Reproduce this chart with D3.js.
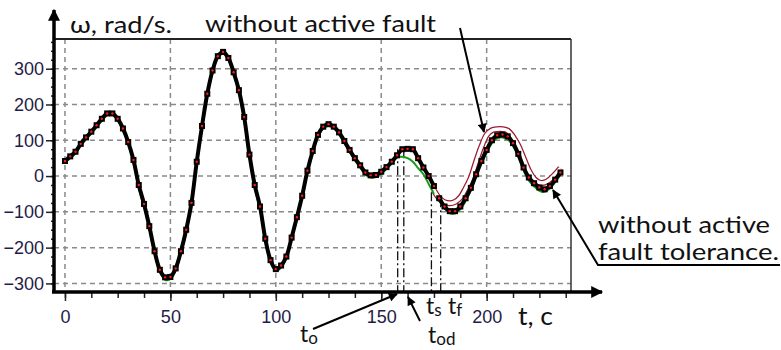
<!DOCTYPE html>
<html lang="en">
<head>
<meta charset="UTF-8">
<title>Angular speed with and without active fault tolerance</title>
<style>
  * { margin: 0; padding: 0; }
  body { background: #fff; width: 781px; height: 350px; overflow: hidden; }
  .tick-label { font-family: "Liberation Sans", Arial, sans-serif; font-size: 18px; fill: #1f1c48; }
  .note { font-family: Lato, "Open Sans", sans-serif; fill: #111; }
</style>
</head>
<body>
<svg id="chart" width="781" height="350"></svg>
<script src="https://d3js.org/d3.v7.min.js"></script>
<script>
  // ---- data (t in c, omega in rad/s) ----
  const tSteps = [0, 2.5, 5, 7.5, 10, 12.5, 15, 17.5, 20, 22.5, 25, 27.5, 30, 32.5, 35, 37.5, 40, 42.5, 45, 47.5,
    50, 52.5, 55, 57.5, 60, 62.5, 65, 67.5, 70, 72.5, 75, 77.5, 80, 82.5, 85, 87.5, 90, 92.5, 95, 97.5,
    100, 102.5, 105, 107.5, 110, 112.5, 115, 117.5, 120, 122.5, 125, 127.5, 130, 132.5, 135, 137.5, 140, 142.5, 145, 147.5,
    150, 152.5, 155, 157.5, 160, 162.5, 165, 167.5, 170, 172.5, 175];
  // black marked curve, before the fault
  const markedBefore = [42, 55, 68, 90, 108, 124, 142, 160, 175, 175, 160, 133, 95, 45, -25, -78, -140, -210, -262, -283,
    -282, -258, -210, -150, -75, 40, 140, 230, 295, 335, 347, 330, 290, 240, 165, 60, -25, -85, -175, -235,
    -260, -250, -225, -172, -115, -55, 15, 70, 115, 138, 145, 138, 122, 98, 73, 50, 30, 10, 2, 3,
    12, 25, 40, 58, 75, 76, 75, 50, 24, 0, -28];
  // thin green curve, before the fault
  const greenBefore = [38, 50, 63, 85, 103, 119, 137, 155, 170, 171, 156, 128, 90, 38, -32, -86, -148, -216, -268, -290,
    -288, -264, -216, -156, -80, 34, 134, 224, 290, 330, 342, 325, 285, 234, 158, 52, -32, -92, -182, -241,
    -266, -256, -230, -178, -121, -61, 9, 64, 110, 133, 140, 133, 116, 92, 67, 44, 24, 4, -4, -3,
    7, 20, 35, 52, 54, 50, 40, 22, 5, -22, -50];

  const tAfter = [177.5, 180, 182.5, 185, 187.5, 190, 192.5, 195, 197.5, 200, 202.5, 205, 207.5, 210, 212.5, 215,
    217.5, 220, 222.5, 225, 227.5, 230, 232.5, 235];
  const markedAfter = [-62, -85, -98, -98, -85, -62, -33, 5, 42, 73, 100, 114, 116, 111, 92, 62,
    24, -4, -20, -32, -37, -28, -10, 10];
  const greenAfter = [-68, -90, -104, -105, -93, -70, -40, -3, 34, 65, 92, 106, 108, 102, 84, 54,
    16, -12, -29, -41, -44, -35, -17, 3];
  // maroon curve: without active fault
  const tNoFault = [175, 177.5, 180, 182.5, 185, 187.5, 190, 192.5, 195, 197.5, 200, 202.5, 205, 207.5, 210, 212.5, 215,
    217.5, 220, 222.5, 225, 227.5, 230, 232.5, 235];
  const noFault = [-40, -62, -73, -76, -72, -60, -35, -5, 40, 82, 115, 128, 131, 131, 127, 110, 85,
    50, 15, -8, -18, -18, -9, 5, 22];

  // event times t_o, t_od, t_s, t_f
  const eventTimes = [157.8, 160.7, 173.8, 178.2];
  const eventTops = [75, 75, -45, -62];

  const xTicks = [0, 50, 100, 150, 200];
  const yTicks = [-300, -200, -100, 0, 100, 200, 300];

  const zip = (ts, vs) => ts.map((t, i) => ({ t: t, v: vs[i] }));

  const svg = d3.select("#chart");
  const x = d3.scaleLinear().domain([-5.2, 240]).range([54, 571]);
  const y = d3.scaleLinear().domain([-324, 383]).range([292, 39]);

  // Grid
  const grid = svg.append("g").attr("stroke", "#8a8a8a").attr("stroke-width", 1.5).attr("stroke-dasharray", "5,4");
  grid.selectAll("line.h").data(yTicks).join("line").attr("class", "h")
    .attr("x1", x.range()[0]).attr("x2", x.range()[1]).attr("y1", d => y(d)).attr("y2", d => y(d));
  grid.selectAll("line.v").data(xTicks).join("line").attr("class", "v")
    .attr("y1", y.range()[1]).attr("y2", y.range()[0]).attr("x1", d => x(d)).attr("x2", d => x(d));

  // Frame: top and right
  svg.append("line").attr("x1", 54).attr("x2", 571).attr("y1", 39).attr("y2", 39).attr("stroke", "#222").attr("stroke-width", 2);
  svg.append("line").attr("x1", 571).attr("x2", 571).attr("y1", 39).attr("y2", 292).attr("stroke", "#333").attr("stroke-width", 1.5);

  // Event verticals
  svg.append("g").selectAll("line").data(eventTimes).join("line")
    .attr("x1", d => x(d)).attr("x2", d => x(d))
    .attr("y1", (d, i) => y(eventTops[i])).attr("y2", 292)
    .attr("stroke", "#111").attr("stroke-width", 1.3).attr("stroke-dasharray", "9,3,2,3");

  // Curves
  const line = d3.line().x(d => x(d.t)).y(d => y(d.v)).curve(d3.curveCatmullRom);

  const noFaultPts = zip(tNoFault, noFault);
  svg.append("path").datum(noFaultPts).attr("d", line).attr("fill", "none").attr("stroke", "#9b1c2e").attr("stroke-width", 6);
  svg.append("path").datum(noFaultPts).attr("d", line).attr("fill", "none").attr("stroke", "#fff").attr("stroke-width", 3.5);

  [zip(tSteps, greenBefore), zip(tAfter, greenAfter)].forEach(pts => {
    svg.append("path").datum(pts).attr("d", line).attr("fill", "none").attr("stroke", "#1a9a1a").attr("stroke-width", 2);
  });

  [zip(tSteps, markedBefore), zip(tAfter, markedAfter)].forEach(pts => {
    svg.append("path").datum(pts).attr("d", line).attr("fill", "none").attr("stroke", "#000").attr("stroke-width", 4);
    svg.append("g").selectAll("rect").data(pts).join("rect")
      .attr("x", d => x(d.t) - 3).attr("y", d => y(d.v) - 3).attr("width", 6).attr("height", 6).attr("fill", "#000");
    svg.append("g").selectAll("circle").data(pts).join("circle")
      .attr("cx", d => x(d.t)).attr("cy", d => y(d.v)).attr("r", 1.2).attr("fill", "#ff1a1a");
  });

  // Axes
  const xAxis = svg.append("g").attr("transform", "translate(0,292)")
    .call(d3.axisBottom(x).tickValues(xTicks).tickSize(9).tickPadding(9).tickFormat(d3.format("d")));
  const xMinor = svg.append("g").attr("transform", "translate(0,292)")
    .call(d3.axisBottom(x).tickValues(d3.range(0, 240, 12.5)).tickSize(6).tickFormat(""));
  const yAxis = svg.append("g").attr("transform", "translate(54,0)")
    .call(d3.axisLeft(y).tickValues(yTicks).tickSize(8).tickPadding(2).tickFormat(d3.format("d")));
  const yMinor = svg.append("g").attr("transform", "translate(54,0)")
    .call(d3.axisLeft(y).tickValues(d3.range(-300, 376, 25)).tickSize(3).tickFormat(""));
  [xAxis, xMinor, yAxis, yMinor].forEach(a => {
    a.select(".domain").remove();
    a.selectAll(".tick line").attr("stroke", "#222").attr("stroke-width", 1.5);
  });
  [xAxis, yAxis].forEach(a => a.selectAll(".tick text").attr("class", "tick-label").attr("fill", null));

  // Axis lines with arrowheads
  const defs = svg.append("defs");
  defs.append("marker").attr("id", "arr").attr("viewBox", "0 0 10 10")
    .attr("refX", 9).attr("refY", 5).attr("markerWidth", 12).attr("markerHeight", 9)
    .attr("markerUnits", "userSpaceOnUse").attr("orient", "auto")
    .append("path").attr("d", "M0,0 L10,5 L0,10 Z").attr("fill", "#000");
  defs.append("marker").attr("id", "arrAxis").attr("viewBox", "0 0 10 10")
    .attr("refX", 9).attr("refY", 5).attr("markerWidth", 14).attr("markerHeight", 12)
    .attr("markerUnits", "userSpaceOnUse").attr("orient", "auto")
    .append("path").attr("d", "M0,0 L10,5 L0,10 Z").attr("fill", "#000");
  svg.append("line").attr("x1", 54).attr("y1", 292).attr("x2", 54).attr("y2", 10)
    .attr("stroke", "#000").attr("stroke-width", 3.5).attr("marker-end", "url(#arrAxis)");
  svg.append("line").attr("x1", 52).attr("y1", 292).attr("x2", 602).attr("y2", 292)
    .attr("stroke", "#000").attr("stroke-width", 3.5).attr("marker-end", "url(#arrAxis)");

  // Annotations
  const note = (txt, xp, yp, size, len) => {
    const t = svg.append("text").attr("class", "note").attr("x", xp).attr("y", yp).attr("font-size", size).text(txt);
    if (len) t.attr("textLength", len).attr("lengthAdjust", "spacingAndGlyphs");
    return t;
  };
  note("ω, rad/s.", 70, 33, 23, 102);
  note("without active fault", 205, 32, 23, 231);
  note("without active", 598, 233, 23, 172);
  note("fault tolerance.", 598, 260, 23, 181);
  note("t, c", 518, 325, 25, 35);

  const sub = (main, s, xp, yp) => {
    const t = svg.append("text").attr("class", "note").attr("x", xp).attr("y", yp).attr("font-size", 23);
    t.append("tspan").text(main);
    t.append("tspan").attr("font-size", 17).attr("dy", 2).text(s);
  };
  sub("t", "o", 300, 342);
  sub("t", "od", 428, 343);
  sub("t", "s", 426, 314);
  sub("t", "f", 448, 314);

  const arrow = (pts) => svg.append("path").attr("d", d3.line()(pts)).attr("fill", "none")
    .attr("stroke", "#000").attr("stroke-width", 2).attr("marker-end", "url(#arr)");
  arrow([[460, 28], [484, 132]]);
  arrow([[780, 265], [598, 265], [553, 190]]);
  arrow([[313, 329], [397, 294]]);
  arrow([[420, 321], [408, 297]]);
</script>
</body>
</html>
